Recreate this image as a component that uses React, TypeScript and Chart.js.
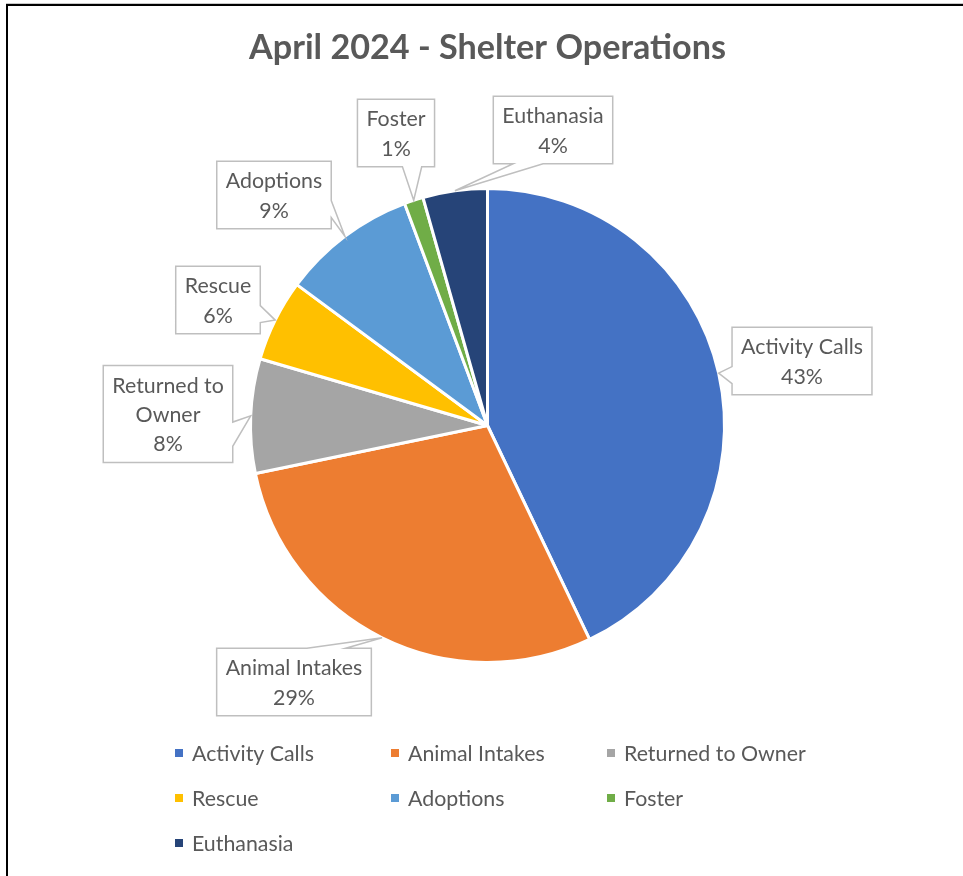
import React, { useEffect, useRef } from 'react';
import { Chart, registerables } from 'chart.js';

Chart.register(...registerables);

const TITLE = 'April 2024 - Shelter Operations';
const categories = ['Activity Calls', 'Animal Intakes', 'Returned to Owner', 'Rescue', 'Adoptions', 'Foster', 'Euthanasia'];
const values = [430, 289, 78, 56, 92, 13, 44];
const colors = ['#4472C4', '#ED7D31', '#A5A5A5', '#FFC000', '#5B9BD5', '#70AD47', '#264478'];

// layout: callout box centres (px)
const calloutCenters: [number, number][] = [
  [802, 361], [294, 682], [168, 414], [218, 300], [274, 195], [396, 133], [553, 130],
];

const FONT = 'Lato, Carlito, "Open Sans", sans-serif';
const TEXT_COLOR = '#595959';

function fitSize(ctx: CanvasRenderingContext2D, text: string, target: number, weight: string) {
  ctx.font = `${weight} 24px ${FONT}`;
  const w = ctx.measureText(text).width;
  return (24 * target) / w;
}

function wrap(ctx: CanvasRenderingContext2D, text: string, maxW: number) {
  const words = text.split(' ');
  const lines: string[] = [];
  let cur = '';
  for (const w of words) {
    const t = cur ? cur + ' ' + w : w;
    if (cur && ctx.measureText(t).width > maxW) {
      lines.push(cur);
      cur = w;
    } else cur = t;
  }
  if (cur) lines.push(cur);
  return lines;
}

const shelterPlugin = {
  id: 'shelterDecor',
  afterDatasetsDraw(chart: any) {
    const ctx: CanvasRenderingContext2D = chart.ctx;
    ctx.save();
    const W = chart.width;
    const H = chart.height;
    // frame
    ctx.fillStyle = '#c8c8c8';
    ctx.fillRect(6, 3, W - 6, 1);
    ctx.fillStyle = '#000';
    ctx.fillRect(6, 4, W - 6, 2);
    ctx.fillRect(6, 4, 2, H - 4);

    // title
    const ts = fitSize(ctx, TITLE, 477, 'bold');
    ctx.font = `bold ${ts}px ${FONT}`;
    ctx.fillStyle = TEXT_COLOR;
    ctx.textAlign = 'center';
    ctx.textBaseline = 'middle';
    ctx.fillText(TITLE, 487.5, 48);

    const fs = fitSize(ctx, 'Activity Calls', 122, 'normal');
    ctx.font = `${fs}px ${FONT}`;
    const lineH = 29.3;
    const padX = 9;
    const padY = 4.5;
    const total = values.reduce((a, b) => a + b, 0);
    const meta = chart.getDatasetMeta(0);

    meta.data.forEach((arc: any, i: number) => {
      const mid = (arc.startAngle + arc.endAngle) / 2;
      const tipX = arc.x + Math.cos(mid) * arc.outerRadius;
      const tipY = arc.y + Math.sin(mid) * arc.outerRadius;
      const pct = Math.round((values[i] / total) * 100) + '%';
      const lines = [...wrap(ctx, categories[i], 150), pct];
      const tw = Math.max(...lines.map((l) => ctx.measureText(l).width));
      const w = tw + padX * 2;
      const h = lines.length * lineH + padY * 2;
      const [cx, cy] = calloutCenters[i];
      const l = cx - w / 2, t = cy - h / 2, r = cx + w / 2, b = cy + h / 2;
      const dxPos = tipX - cx, dyPos = tipY - cy;
      const horiz = Math.abs(dxPos * h) > Math.abs(dyPos * w);
      const xa = dxPos > 0 ? l + (w * 7) / 12 : l + (w * 2) / 12;
      const xb = dxPos > 0 ? l + (w * 10) / 12 : l + (w * 5) / 12;
      const ya = dyPos > 0 ? t + (h * 7) / 12 : t + (h * 2) / 12;
      const yb = dyPos > 0 ? t + (h * 10) / 12 : t + (h * 5) / 12;
      ctx.beginPath();
      ctx.moveTo(l, t);
      if (!horiz && dyPos < 0) { ctx.lineTo(xa, t); ctx.lineTo(tipX, tipY); ctx.lineTo(xb, t); }
      ctx.lineTo(r, t);
      if (horiz && dxPos > 0) { ctx.lineTo(r, ya); ctx.lineTo(tipX, tipY); ctx.lineTo(r, yb); }
      ctx.lineTo(r, b);
      if (!horiz && dyPos > 0) { ctx.lineTo(xb, b); ctx.lineTo(tipX, tipY); ctx.lineTo(xa, b); }
      ctx.lineTo(l, b);
      if (horiz && dxPos < 0) { ctx.lineTo(l, yb); ctx.lineTo(tipX, tipY); ctx.lineTo(l, ya); }
      ctx.closePath();
      ctx.fillStyle = '#ffffff';
      ctx.fill();
      ctx.strokeStyle = '#BFBFBF';
      ctx.lineWidth = 1.5;
      ctx.lineJoin = 'miter';
      ctx.stroke();
      ctx.fillStyle = TEXT_COLOR;
      ctx.textAlign = 'center';
      ctx.textBaseline = 'middle';
      lines.forEach((ln, k) => {
        ctx.fillText(ln, cx, cy + (k - (lines.length - 1) / 2) * lineH + 1);
      });
    });

    // legend
    const lx0 = 175, colW = 216, ly0 = 753, rowH = 45;
    ctx.textAlign = 'left';
    ctx.textBaseline = 'middle';
    categories.forEach((c, i) => {
      const col = i % 3;
      const row = Math.floor(i / 3);
      const x = lx0 + col * colW;
      const y = ly0 + row * rowH;
      ctx.fillStyle = colors[i];
      ctx.fillRect(x, y - 4, 8, 8);
      ctx.fillStyle = TEXT_COLOR;
      ctx.fillText(c, x + 17, y + 1);
    });
    ctx.restore();
  },
};

export default function App() {
  const ref = useRef<HTMLCanvasElement>(null);
  useEffect(() => {
    const chart = new Chart(ref.current as HTMLCanvasElement, {
      type: 'pie',
      data: {
        labels: categories,
        datasets: [
          {
            data: values,
            backgroundColor: colors,
            borderColor: '#ffffff',
            borderWidth: 3,
          },
        ],
      },
      options: {
        responsive: false,
        animation: false,
        devicePixelRatio: 1,
        layout: { padding: { left: 249, right: 237, top: 187, bottom: 212 } },
        plugins: {
          legend: { display: false },
          title: { display: false },
          tooltip: { enabled: false },
        },
      },
      plugins: [shelterPlugin],
    });
    return () => chart.destroy();
  }, []);
  return (
    <div style={{ position: 'absolute', left: 0, top: 0, width: 963, height: 876, background: '#ffffff' }}>
      <canvas ref={ref} width={963} height={876} style={{ display: 'block', width: 963, height: 876 }} />
    </div>
  );
}
